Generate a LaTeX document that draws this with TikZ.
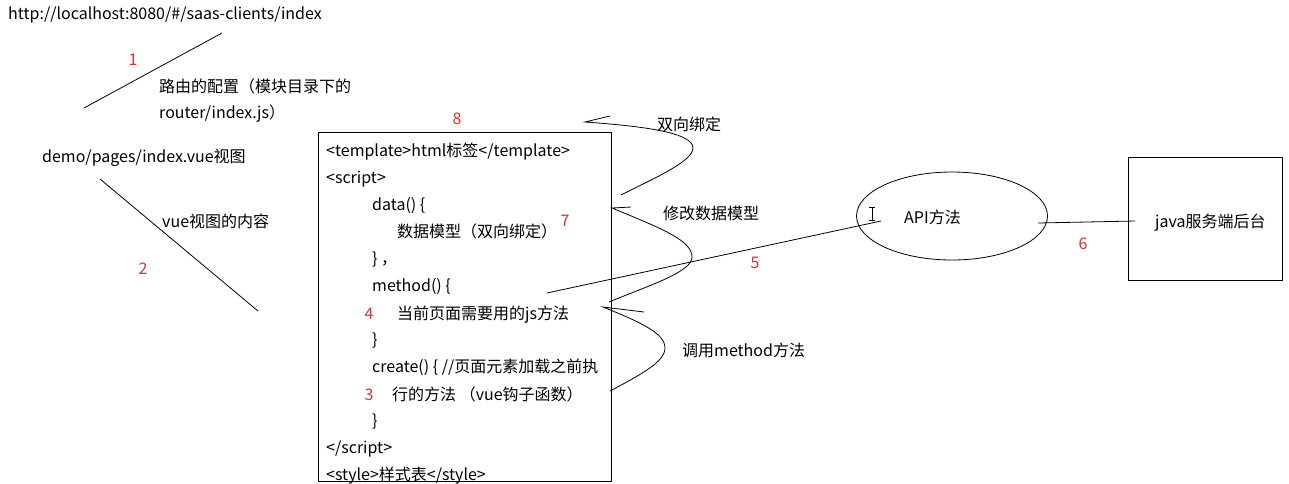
\documentclass[tikz,border=0pt]{standalone}
\usepackage{fontspec}
\setmainfont{Noto Sans CJK SC}
\usetikzlibrary{shapes.geometric,calc}
\definecolor{numred}{RGB}{214,52,46}
\tikzset{
  txt/.style={anchor=base west, inner sep=0pt, font=\fontsize{16}{18}\selectfont},
  num/.style={anchor=base, inner sep=0pt, text=numred, font=\fontsize{16}{18}\selectfont},
  ln/.style={line width=0.8pt, black},
}
\begin{document}
\begin{tikzpicture}[x=1pt,y=-1pt]
\useasboundingbox (0,0) rectangle (1289,483);
% top-left texts
\node[txt] (url) at (8,19) {http://localhost:8080/\#/saas-clients/index};
\node[txt] (route1) at (159,92) {路由的配置（模块目录下的};
\node[txt] (route2) at (159,118) {router/index.js）};
\node[txt] (demo) at (42,162) {demo/pages/index.vue视图};
\node[txt] (vuec) at (162,227) {vue视图的内容};
\coordinate (l1a) at (222,33);
\coordinate (l1b) at (84,108);
\draw[ln] (l1a) -- (l1b);
\coordinate (l2a) at (100,179);
\coordinate (l2b) at (258,311);
\draw[ln] (l2a) -- (l2b);
\node[num] (n1) at (133,65) {1};
\node[num] (n2) at (143,274) {2};
% main box
\node[draw, line width=0.8pt, minimum width=293pt, minimum height=349pt, inner sep=0pt, anchor=north west] (vuebox) at (318,132) {};
\node[txt] (t1) at (326,156) {<template>html标签</template>};
\node[txt] (t2) at (326,183) {<script>};
\node[txt] (t3) at (372,210) {data() \{};
\node[txt] (t4) at (397,237) {数据模型（双向绑定）};
\node[txt] (t5) at (372,264) {\} ，};
\node[txt] (t6) at (372,291) {method() \{};
\node[txt] (t7) at (397,319) {当前页面需要用的js方法};
\node[txt] (t8) at (372,345) {\}};
\node[txt] (t9) at (372,372) {create() \{ //页面元素加载之前执};
\node[txt] (t10) at (392,400) {行的方法 （vue钩子函数）};
\node[txt] (t11) at (372,426) {\}};
\node[txt] (t12) at (326,453) {</script>};
\node[txt] (t13) at (326,480) {<style>样式表</style>};
\node[num] (n8) at (457,124) {8};
\node[num] (n7) at (565,226) {7};
\node[num] (n4) at (369,319) {4};
\node[num] (n3) at (369,400) {3};
% curves
\coordinate (c1v) at (585,122);
\coordinate (c1t) at (610,116);
\coordinate (c1a) at (693,148);
\coordinate (c1e) at (621,195);
\draw[ln] (c1t) -- (c1v) .. controls (640,126) and (693,132) .. (c1a)
  .. controls (693,162) and (650,180) .. (c1e);
\coordinate (c2v) at (612,208);
\coordinate (c2t) at (631,207);
\coordinate (c2a) at (692,257);
\coordinate (c2e) at (609,302);
\draw[ln] (c2t) -- (c2v) .. controls (660,228) and (692,240) .. (c2a)
  .. controls (692,272) and (650,285) .. (c2e);
\coordinate (c3v) at (603,307);
\coordinate (c3t) at (644,312);
\coordinate (c3a) at (665,348);
\coordinate (c3e) at (610,391);
\draw[ln] (c3t) -- (c3v) .. controls (640,322) and (665,333) .. (c3a)
  .. controls (665,362) and (640,375) .. (c3e);
\node[txt] (lb1) at (657,130) {双向绑定};
\node[txt] (lb2) at (663,219) {修改数据模型};
\node[txt] (lb3) at (682,356) {调用method方法};
% API ellipse
\node[draw, ellipse, line width=0.8pt, minimum width=191pt, minimum height=88pt, inner sep=0pt] (apiell) at (952,216) {};
\node[txt] (api) at (904,223) {API方法};
\coordinate (l5a) at (547,293);
\coordinate (l5b) at (881,221);
\draw[ln] (l5a) -- (l5b);
\node[num] (n5) at (755,268) {5};
% cursor
\coordinate (cur1) at (872,207);
\coordinate (cur2) at (872,220);
\draw[line width=0.7pt] (cur1) -- (cur2);
\draw[line width=0.7pt] ($(cur1)+(-3,0)$) -- ($(cur1)+(3,0)$);
\draw[line width=0.7pt] ($(cur2)+(-3,0)$) -- ($(cur2)+(3,0)$);
% java box
\node[draw, line width=0.8pt, minimum width=154pt, minimum height=123pt, inner sep=0pt, anchor=north west] (java) at (1128,157) {};
\node[txt] (javat) at (1155,227) {java服务端后台};
\coordinate (l6a) at (1038,223);
\coordinate (l6b) at (1135,221);
\draw[ln] (l6a) -- (l6b);
\node[num] (n6) at (1083,249) {6};
\end{tikzpicture}
\end{document}
